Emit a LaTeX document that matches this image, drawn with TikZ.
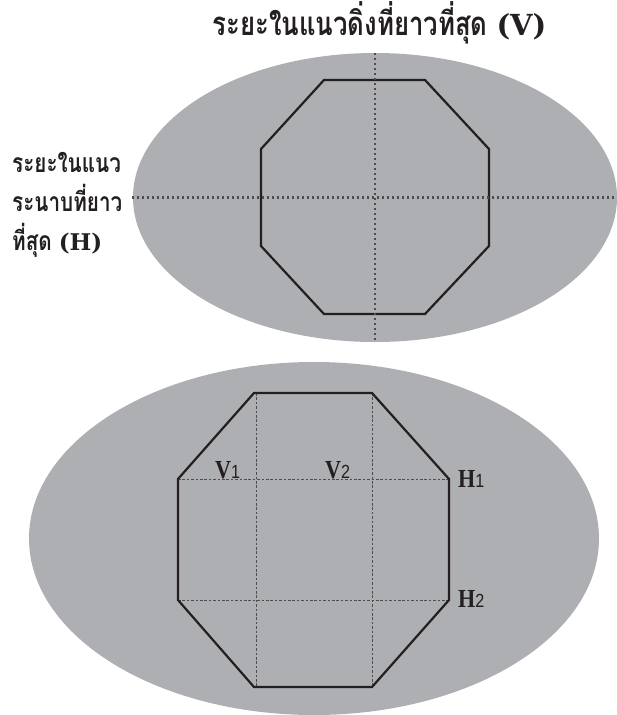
\documentclass[tikz,border=0pt]{standalone}
\usepackage{fontspec}
\setmainfont{Liberation Serif}
\newfontfamily\thaifont[Script=Thai, FakeStretch=0.78]{Loma}
\newfontfamily\wideserif{DejaVu Serif}
\newfontfamily\markfont[FakeStretch=0.85]{Liberation Serif}
\newfontfamily\digitfont[FakeStretch=0.85]{Liberation Sans}

\definecolor{plate}{RGB}{174,175,179}
\definecolor{ink}{RGB}{35,31,32}
\definecolor{guide}{RGB}{77,77,79}

\tikzset{
    titletext/.style={font=\thaifont\fontsize{33}{40}\selectfont\bfseries, text=ink, inner sep=0pt},
    thaitext/.style={font=\thaifont\fontsize{26.5}{32}\selectfont\bfseries, text=ink, inner sep=0pt},
    marktext/.style={font=\markfont\fontsize{26}{30}\selectfont\bfseries, text=ink, inner sep=0pt},
    outline/.style={ink, line width=2.2pt, line join=miter},
    axisdots/.style={guide, line width=2.2pt, dash pattern=on 2.2pt off 2.8pt},
    griddash/.style={guide, line width=0.8pt, dash pattern=on 2.6pt off 1.8pt}
}
\newcommand{\idx}[1]{{\digitfont\mdseries\fontsize{19}{22}\selectfont #1}}
\newcommand{\latin}[2]{{\wideserif\fontsize{#1}{#1}\selectfont #2}}

\begin{document}
\begin{tikzpicture}[x=1pt, y=-1pt]
    \useasboundingbox (0,0) rectangle (616,715);

    % ----------------------------------------------------
    % 1. Sezione superiore: assi V e H
    % ----------------------------------------------------
    \begin{scope}
        \def\cx{375}
        \def\cy{197.5}
        \fill[plate] (\cx,\cy) ellipse (242 and 144.5);
        \draw[outline] (324,80) -- (425,80) -- (489,149) -- (489,246)
                       -- (425,314) -- (324,314) -- (261,246) -- (261,149) -- cycle;
        \draw[axisdots] (132,\cy) -- (616,\cy);
        \draw[axisdots] (\cx,53) -- (\cx,342);

        \node[titletext, anchor=base] (vtitle) at (379.5,35)
            {ระยะในแนวดิ่งที่ยาวที่สุด\hspace{9pt}\latin{29}{(V)}};
        \node[thaitext, anchor=base west] (hlineA) at (12,172) {ระยะในแนว};
        \node[thaitext, anchor=base west] (hlineB) at (12,211) {ระนาบที่ยาว};
        \node[thaitext, anchor=base west] (hlineC) at (12,250) {ที่สุด\hspace{7pt}\latin{23}{(H)}};
    \end{scope}

    % ----------------------------------------------------
    % 2. Sezione inferiore: griglia V1 V2 H1 H2
    % ----------------------------------------------------
    \begin{scope}
        \def\xL{178}
        \def\xA{256}
        \def\xB{372}
        \def\xR{449}
        \def\yT{393}
        \def\yA{479}
        \def\yB{600}
        \def\yD{687}
        \fill[plate] (314,538.5) ellipse (285 and 176.5);
        \draw[griddash] (\xL,\yA) -- (\xR,\yA);
        \draw[griddash] (\xL,\yB) -- (\xR,\yB);
        \draw[griddash] (\xA,\yT) -- (\xA,\yD);
        \draw[griddash] (\xB,\yT) -- (\xB,\yD);
        \draw[outline] (254,\yT) -- (\xB,\yT) -- (\xR,\yA) -- (\xR,\yB)
                       -- (\xB,\yD) -- (254,\yD) -- (\xL,\yB) -- (\xL,\yA) -- cycle;

        \node[marktext, anchor=base west] (vone) at (215,478) {V\idx{1}};
        \node[marktext, anchor=base west] (vtwo) at (325,478) {V\idx{2}};
        \node[marktext, anchor=base west] (hone) at (458,487) {H\idx{1}};
        \node[marktext, anchor=base west] (htwo) at (458,607) {H\idx{2}};
    \end{scope}

\end{tikzpicture}
\end{document}
